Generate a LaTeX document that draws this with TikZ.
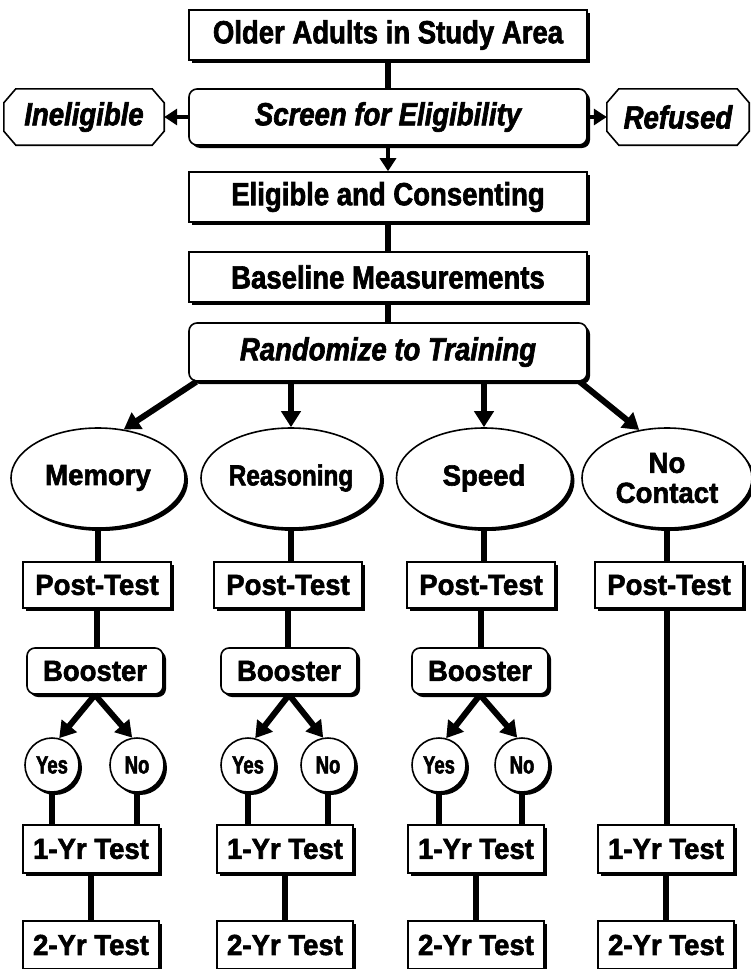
\documentclass[tikz,border=0pt]{standalone}
\usepackage{fontspec}
\setmainfont{Liberation Sans}
\newfontfamily\mainf{Liberation Sans}[FakeStretch=0.86, BoldFeatures={FakeBold=2}, BoldItalicFeatures={FakeBold=2}]
\newfontfamily\itemf{Liberation Sans}[FakeStretch=0.95, BoldFeatures={FakeBold=2}]
\newfontfamily\reasf{Liberation Sans}[FakeStretch=0.84, BoldFeatures={FakeBold=2}]
\newfontfamily\ynf{Liberation Sans}[FakeStretch=0.74, BoldFeatures={FakeBold=2}]
\usetikzlibrary{shapes.geometric,shadows,arrows.meta,backgrounds}
\newcommand{\octpath}[1]{([xshift=12pt]#1.north west) -- ([xshift=-12pt]#1.north east) -- ([yshift=-14pt]#1.north east) -- ([yshift=14pt]#1.south east) -- ([xshift=-12pt]#1.south east) -- ([xshift=12pt]#1.south west) -- ([yshift=14pt]#1.south west) -- ([yshift=-14pt]#1.north west) -- cycle}
\begin{document}
\begin{tikzpicture}[x=1pt,y=-1pt]
\tikzset{
 base/.style={draw, line width=1.6pt, fill=white, inner sep=0pt, align=center,
   font=\itemf\bfseries\fontsize{29}{30}\selectfont,
   drop shadow={shadow xshift=3pt, shadow yshift=-3pt, fill=black, opacity=1}},
 mainbox/.style={base, minimum width=398pt, minimum height=50pt, font=\mainf\bfseries\fontsize{32}{34}\selectfont},
 mainround/.style={mainbox, rounded corners=8pt, font=\mainf\bfseries\itshape\fontsize{32}{34}\selectfont},
 octo/.style={inner sep=0pt, minimum height=56pt, font=\mainf\bfseries\itshape\fontsize{32}{34}\selectfont},
 octline/.style={draw=black, line width=1.6pt, fill=white},
 oval/.style={base, ellipse, minimum width=174pt, minimum height=100pt},
 itembox/.style={base, minimum width=148pt, minimum height=46pt},
 testbox/.style={base, minimum width=136pt, minimum height=48pt},
 boostbox/.style={base, rounded corners=8pt, minimum width=136pt, minimum height=46pt},
 yn/.style={base, circle, minimum size=54pt, font=\ynf\bfseries\fontsize{25}{25}\selectfont},
 conn/.style={line width=5.5pt},
 arr/.style={line width=6pt, -{Triangle[width=19pt,length=16pt]}},
 sarr/.style={line width=4.5pt, -{Triangle[width=16pt,length=13pt]}}
}
\useasboundingbox (0,0) rectangle (751,969);
% main column
\node[mainbox] (top) at (388,35) {Older Adults in Study Area};
\node[mainround, minimum height=56pt] (screen) at (388,117) {Screen for Eligibility};
\node[octo, minimum width=160pt] (inel) at (84,117) {Ineligible};
\node[octo, minimum width=142pt] (ref) at (678,117) {Refused};
\begin{scope}[on background layer]
  \fill[black, shift={(3pt,-3pt)}] \octpath{inel};
  \path[octline] \octpath{inel};
  \fill[black, shift={(3pt,-3pt)}] \octpath{ref};
  \path[octline] \octpath{ref};
\end{scope}
\node[mainbox] (elig) at (388,197) {Eligible and Consenting};
\node[mainbox] (base) at (388,277) {Baseline Measurements};
\node[mainround, minimum height=58pt] (rand) at (388,352) {Randomize to Training};
% ellipses
\node[oval] (mem) at (98,478) {Memory};
\node[oval, minimum width=180pt, font=\reasf\bfseries\fontsize{29}{30}\selectfont] (reas) at (291,478) {Reasoning};
\node[oval, minimum width=175pt] (speed) at (484,478) {Speed};
\node[oval, minimum width=170pt] (noc) at (667,478) {No\\Contact};
% post tests
\node[itembox] (p1) at (97,585) {Post-Test};
\node[itembox] (p2) at (288,585) {Post-Test};
\node[itembox] (p3) at (481,585) {Post-Test};
\node[itembox] (p4) at (669,585) {Post-Test};
% boosters
\node[boostbox] (b1) at (95,671) {Booster};
\node[boostbox] (b2) at (289,671) {Booster};
\node[boostbox] (b3) at (480,671) {Booster};
% yes / no
\node[yn] (y1) at (52,765) {Yes};
\node[yn] (n1) at (137,765) {No};
\node[yn] (y2) at (248,765) {Yes};
\node[yn] (n2) at (328,765) {No};
\node[yn] (y3) at (439,765) {Yes};
\node[yn] (n3) at (522,765) {No};
% tests
\node[testbox] (o1) at (91,849) {1-Yr Test};
\node[testbox] (o2) at (285,849) {1-Yr Test};
\node[testbox] (o3) at (476,849) {1-Yr Test};
\node[testbox] (o4) at (666,849) {1-Yr Test};
\node[testbox] (t1) at (91,945) {2-Yr Test};
\node[testbox] (t2) at (285,945) {2-Yr Test};
\node[testbox] (t3) at (476,945) {2-Yr Test};
\node[testbox] (t4) at (666,945) {2-Yr Test};
% connectors
\draw[conn] (top) -- (screen);
\draw[sarr] (screen) -- (elig);
\draw[sarr] (screen.west) -- (inel.east);
\draw[sarr] (screen.east) -- (ref.west);
\draw[conn] (elig) -- (base);
\draw[conn] (base) -- (rand);
\draw[arr] ([xshift=8pt]rand.south west) -- (mem.62);
\draw[arr] (rand.south -| reas.north) -- (reas.north);
\draw[arr] (rand.south -| speed.north) -- (speed.north);
\draw[arr] ([xshift=-8pt]rand.south east) -- (noc.120);
\draw[conn] (mem.south) -- (mem.south |- p1.north);
\draw[conn] (reas.south) -- (reas.south |- p2.north);
\draw[conn] (speed.south) -- (speed.south |- p3.north);
\draw[conn] (noc.south) -- (noc.south |- p4.north);
\draw[conn] (p1) -- (p1 |- b1.north);
\draw[conn] (p2) -- (p2 |- b2.north);
\draw[conn] (p3) -- (p3 |- b3.north);
\draw[conn] (p4.south -| noc.south) -- (o4.north -| noc.south);
\foreach \i in {1,2,3}{
  \draw[arr] (b\i.south) -- (y\i.75);
  \draw[arr] (b\i.south) -- (n\i.100);
  \draw[conn] (y\i.south) -- (y\i.south |- o\i.north);
  \draw[conn] (n\i.south) -- (n\i.south |- o\i.north);
}
\foreach \i in {1,2,3,4}{
  \draw[conn] (o\i) -- (t\i);
}
\end{tikzpicture}
\end{document}
